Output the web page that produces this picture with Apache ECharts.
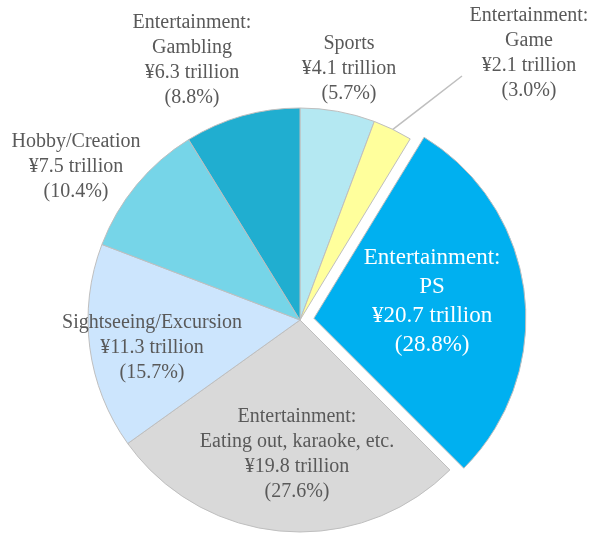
<!DOCTYPE html>
<html><head><meta charset="utf-8">
<script src="https://cdn.jsdelivr.net/npm/echarts@6/dist/echarts.min.js"></script>
<style>html,body{margin:0;padding:0;background:#fff}#c{width:590px;height:533px}</style>
</head><body><div id="c"></div>
<script>
const names = ['Sports', 'Entertainment:\nGame', 'Entertainment:\nPS', 'Entertainment:\nEating out, karaoke, etc.', 'Sightseeing/Excursion', 'Hobby/Creation', 'Entertainment:\nGambling'];
const amounts = [4.1, 2.1, 20.7, 19.8, 11.3, 7.5, 6.3];
const shares = [5.7, 3.0, 28.8, 27.6, 15.7, 10.4, 8.8];
const colors = ['#b4e8f2', '#ffff9c', '#00b0f0', '#d9d9d9', '#cce5fd', '#76d5e8', '#20aed0'];
const labelPos = [[349, 69], [529, 53], null, [297, 454], [152, 348], [76, 167], [192, 60]];
const CX = 300, CY = 320, R = 212;
const FONT = "'Liberation Serif', 'Times New Roman', serif";

const total = shares.reduce((a, b) => a + b, 0);
function midAngle(i) {
  let s = 0;
  for (let k = 0; k < i; k++) s += shares[k];
  return ((s + shares[i] / 2) / total) * Math.PI * 2;
}

const data = names.map((n, i) => {
  const item = {
    name: n,
    value: shares[i],
    itemStyle: { color: colors[i] },
    label: {
      position: i === 1 ? 'outside' : 'inside',
      formatter: n + '\n¥' + amounts[i].toFixed(1) + ' trillion\n(' + shares[i].toFixed(1) + '%)'
    },
    labelLine: { show: i === 1 }
  };
  if (i === 2) {
    const psLabel = { color: '#ffffff', fontSize: 23, lineHeight: 29, offset: [10, -4] };
    item.selected = true;
    Object.assign(item.label, psLabel);
    item.select = { label: Object.assign({ show: true }, psLabel) };
  }
  return item;
});

const chart = echarts.init(document.getElementById('c'), null, { renderer: 'canvas' });
chart.setOption({
  animation: false,
  backgroundColor: '#ffffff',
  series: [{
    type: 'pie',
    center: [CX, CY],
    radius: [0, R],
    startAngle: 90,
    clockwise: true,
    selectedMode: 'single',
    selectedOffset: 14,
    avoidLabelOverlap: false,
    silent: true,
    emphasis: { disabled: true, scale: false },
    itemStyle: { borderColor: '#bfbfbf', borderWidth: 1 },
    label: {
      show: true,
      fontFamily: FONT,
      fontSize: 20,
      lineHeight: 25,
      color: '#595959',
      align: 'center'
    },
    labelLine: { show: false, lineStyle: { color: '#bfbfbf', width: 1.5 } },
    labelLayout: function (params) {
      const i = params.dataIndex;
      if (!labelPos[i]) return {};
      const out = { x: labelPos[i][0], y: labelPos[i][1], align: 'center', verticalAlign: 'middle' };
      if (i === 1) {
        const a = midAngle(i) - 0.025;
        const px = CX + Math.sin(a) * R * 0.95;
        const py = CY - Math.cos(a) * R * 0.95;
        const lx = labelPos[i][0] - 67, ly = labelPos[i][1] + 23;
        out.labelLinePoints = [[px, py], [(px + lx) / 2, (py + ly) / 2], [lx, ly]];
      }
      return out;
    },
    data: data
  }]
});
</script>
</body></html>
